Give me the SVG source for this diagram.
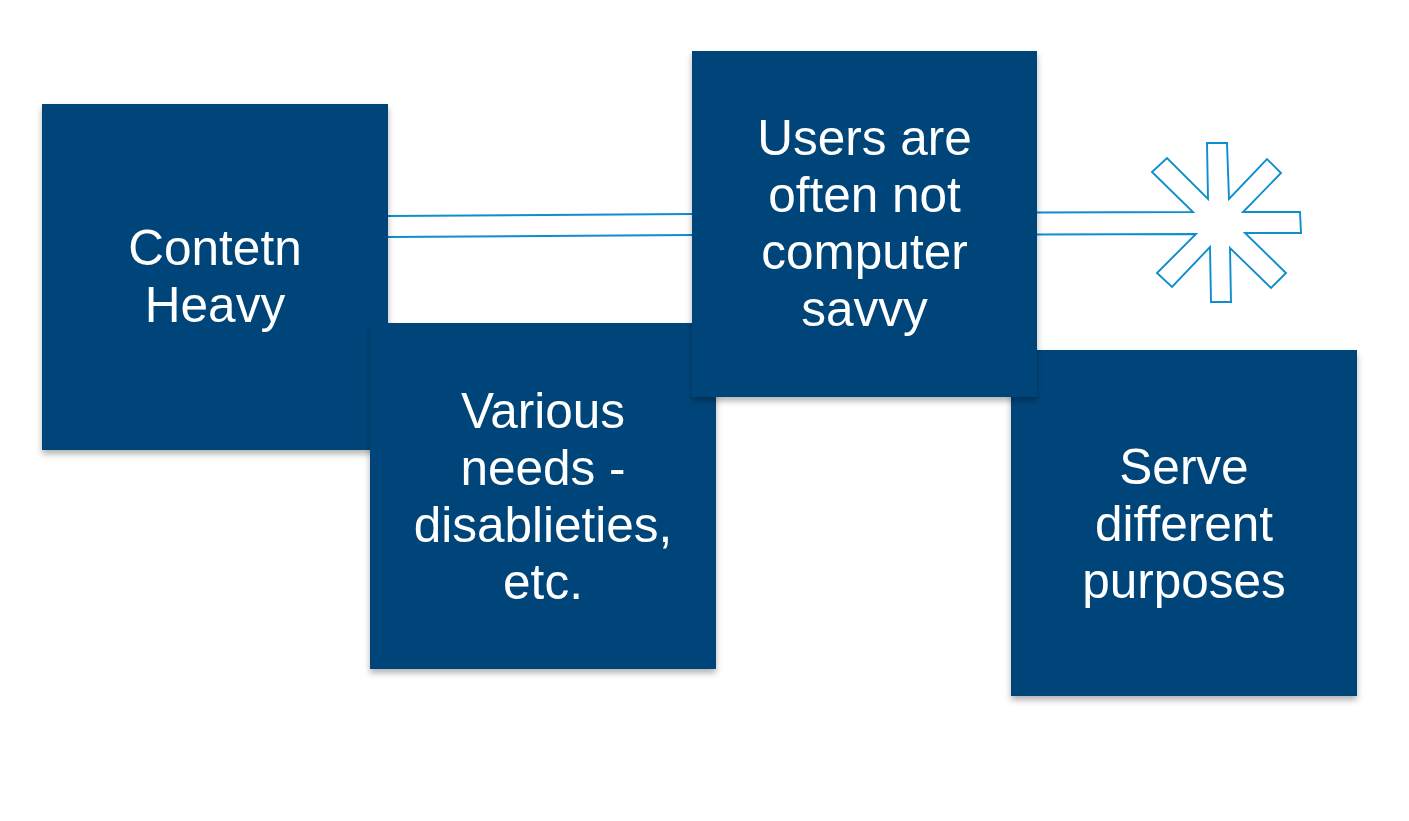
<svg xmlns="http://www.w3.org/2000/svg" width="1409" height="821" viewBox="0 0 1409 821">
<defs>
<filter id="sh" x="-10%" y="-10%" width="120%" height="125%">
<feDropShadow dx="0" dy="4" stdDeviation="3" flood-color="#000" flood-opacity="0.3"/>
</filter>
<style>
.box{fill:#03457a;filter:url(#sh)}
.t{fill:#ffffff;font-family:"Liberation Sans",Arial,sans-serif;font-size:49.5px;text-anchor:middle}
.c{fill:none;stroke:#0e8dcf;stroke-width:1.9}
</style>
</defs>
<rect width="1409" height="821" fill="#ffffff"/>
<g id="connectors">
<line class="c" x1="388" y1="216" x2="692" y2="214"/>
<line class="c" x1="388" y1="237" x2="692" y2="235"/>
<path class="c" d="M1037,212.5 L1193,212 L1152,172 L1167,158 L1208,199 L1207,143 L1227,143 L1229,199 L1267,159 L1281,173 L1243,212 L1300,212 L1301,233 L1245,233 L1286,273 L1271,288 L1230,248 L1231,302 L1211,302 L1210,247 L1172,287 L1157,273 L1196,234 L1037,234.5"/>
</g>
<g id="node1">
<rect class="box" x="42" y="104" width="346" height="346"/>
<text class="t" x="215" y="265">Contetn</text>
<text class="t" x="215" y="322">Heavy</text>
</g>
<g id="node2">
<rect class="box" x="370" y="323" width="346" height="346"/>
<text class="t" x="543" y="428">Various</text>
<text class="t" x="543" y="485">needs -</text>
<text class="t" x="543" y="542">disablieties,</text>
<text class="t" x="543" y="599">etc.</text>
</g>
<g id="node4">
<rect class="box" x="1011" y="350" width="346" height="346"/>
<text class="t" x="1184" y="484">Serve</text>
<text class="t" x="1184" y="541">different</text>
<text class="t" x="1184" y="598">purposes</text>
</g>
<g id="node3">
<rect class="box" x="692" y="51" width="345" height="346"/>
<text class="t" x="864.5" y="155">Users are</text>
<text class="t" x="864.5" y="212">often not</text>
<text class="t" x="864.5" y="269">computer</text>
<text class="t" x="864.5" y="326">savvy</text>
</g>
</svg>
